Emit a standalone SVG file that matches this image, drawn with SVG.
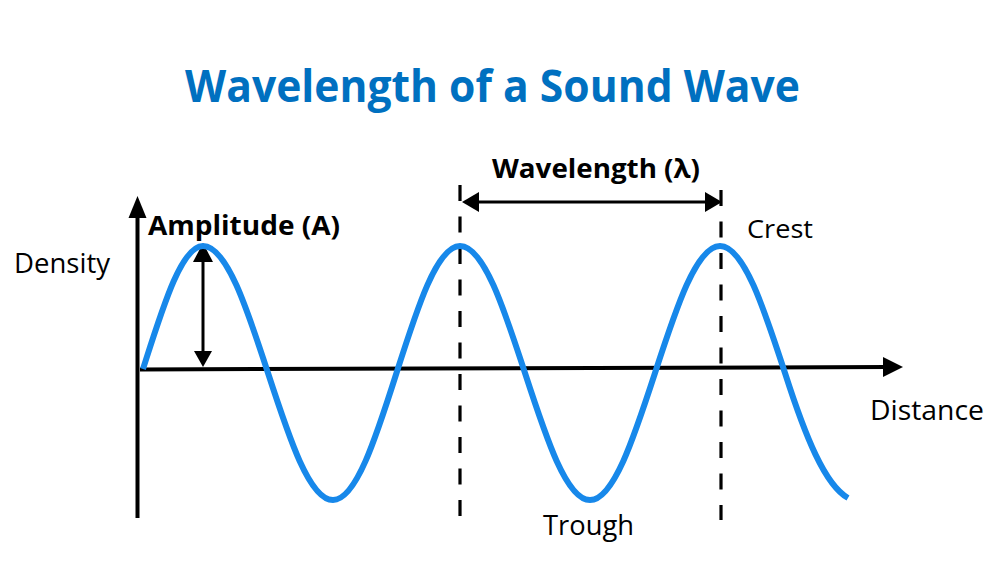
<svg xmlns="http://www.w3.org/2000/svg" width="1000" height="585" viewBox="0 0 1000 585">
<style>
.t{font-family:"Open Sans","Liberation Sans",sans-serif;fill:#000}
.b{font-weight:bold}
.ln{stroke:#000;stroke-width:4;fill:none}
.thin{stroke:#000;stroke-width:3;fill:none}
.dash{stroke:#000;stroke-width:3.2;stroke-dasharray:16 15.5;fill:none}
.head{fill:#000;stroke:none}
.wave{stroke:#1788EA;stroke-width:6;fill:none}
</style>
<rect width="1000" height="585" fill="#fff"/>
<g id="title">
<text class="t b" x="185" y="102" font-size="45" textLength="615" lengthAdjust="spacingAndGlyphs" style="fill:#0070C0">Wavelength of a Sound Wave</text>
</g>
<g id="connectors">
<g id="y-axis">
<line class="ln" x1="137.5" y1="518" x2="137.5" y2="212"/>
<polygon class="head" points="137.5,196 146.5,218 128.5,218"/>
</g>
<g id="x-axis">
<line class="ln" x1="140" y1="369.5" x2="888" y2="367"/>
<polygon class="head" points="903,367 883,357 883,377"/>
</g>
<g id="amplitude-arrow">
<line class="thin" x1="203" y1="258" x2="203" y2="355"/>
<polygon class="head" points="203,243 213,262 193,262"/>
<polygon class="head" points="203,367 212,351 194,351"/>
</g>
<g id="wavelength-arrow">
<line class="thin" x1="475" y1="202" x2="708" y2="202"/>
<polygon class="head" points="462,202 479,192 479,212"/>
<polygon class="head" points="722,202 705,192 705,212"/>
</g>
<line id="dash-left" class="dash" x1="460" y1="185" x2="460" y2="518"/>
<line id="dash-right" class="dash" x1="721" y1="190" x2="721" y2="520"/>
</g>
<g id="wave">
<path class="wave" d="M143,369 C162.6,307.9 181.3,246 203,246 C226.5,246 246.8,307.9 268,373 C289.2,438.1 309.5,500 333,500 C356,500 375.8,438.1 396.5,373 C417.2,307.9 437,246 460,246 C483.5,246 503.8,307.9 525,373 C546.2,438.1 566.5,500 590,500 C613.5,500 633.8,438.1 655,373 C676.2,307.9 696.5,246 720,246 C743.5,246 763.8,307.9 785,373 C805.5,437 825,485 848,498"/>
</g>
<g id="label-amplitude"><text class="t b" x="148" y="235" font-size="26" textLength="192" lengthAdjust="spacingAndGlyphs">Amplitude (A)</text></g>
<g id="label-wavelength"><text class="t b" x="492" y="178" font-size="27" textLength="208" lengthAdjust="spacingAndGlyphs">Wavelength (λ)</text></g>
<g id="label-density"><text class="t" x="14" y="273" font-size="27" textLength="96" lengthAdjust="spacingAndGlyphs">Density</text></g>
<g id="label-crest"><text class="t" x="747" y="238" font-size="26" textLength="66" lengthAdjust="spacingAndGlyphs">Crest</text></g>
<g id="label-distance"><text class="t" x="870" y="420" font-size="27" textLength="114" lengthAdjust="spacingAndGlyphs">Distance</text></g>
<g id="label-trough"><text class="t" x="543" y="535" font-size="27" textLength="91" lengthAdjust="spacingAndGlyphs">Trough</text></g>
</svg>
